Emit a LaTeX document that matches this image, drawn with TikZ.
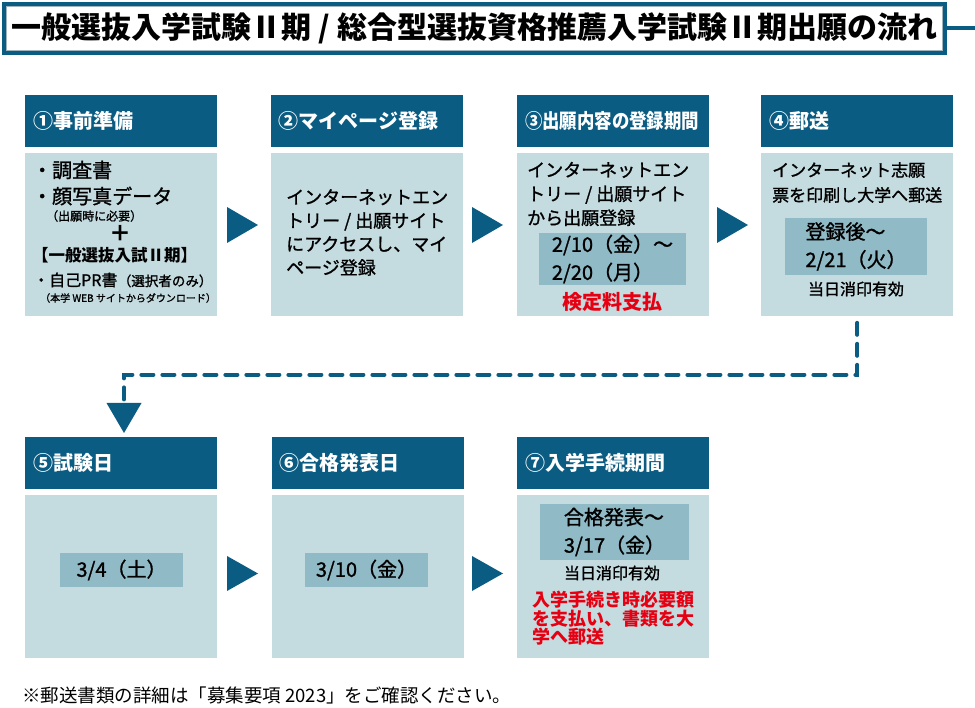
\documentclass[tikz,border=0pt]{standalone}
\usepackage{fontspec}
\setmainfont{Noto Sans CJK JP}
\newfontfamily\jpmid{Noto Sans CJK JP}[FakeBold=1.2]
\usetikzlibrary{positioning,arrows.meta}
\definecolor{flow}{RGB}{10,92,130}
\definecolor{pale}{RGB}{196,219,223}
\definecolor{datefill}{RGB}{143,186,198}
\definecolor{alert}{RGB}{230,0,18}
\definecolor{rim}{RGB}{160,180,190}
\newcommand{\fsz}[2]{\fontsize{#1}{#2}\selectfont}
\begin{document}
\begin{tikzpicture}[x=1pt,y=-1pt,
  titlebox/.style={draw=flow,line width=4pt,fill=white,minimum width=941pt,minimum height=49pt,inner sep=0pt,font=\bfseries\fsz{30}{32}},
  head/.style={fill=flow,text=white,minimum width=192pt,minimum height=52pt,text width=176pt,inner xsep=8pt,inner ysep=0pt,align=left,font=\bfseries\fsz{20}{24}},
  body/.style={fill=pale,minimum width=192pt,minimum height=163pt,inner sep=0pt},
  datebox/.style={fill=datefill,inner sep=0pt,align=left,font=\jpmid\fsz{20}{28}},
  txt/.style={inner sep=0pt,align=left,anchor=west},
  stamp/.style={inner sep=0pt,font=\jpmid\fsz{16}{20}},
  paytext/.style={inner sep=0pt,align=left,text=alert,font=\bfseries\fsz{18}{18.5}},
  dashline/.style={draw=flow,line width=4pt,dash pattern=on 12pt off 9pt,line cap=round,-{Triangle[length=30pt,width=35pt,line width=0pt]}}]
\useasboundingbox (0,0) rectangle (975,708);
\node[titlebox] (title) at (474.5,28.5) {一般選抜入学試験Ⅱ期 / 総合型選抜資格推薦入学試験Ⅱ期出願の流れ};
\draw[rim,line width=0.8pt] ([shift={(4.6pt,-4.6pt)}]title.north west) rectangle ([shift={(-4.6pt,4.6pt)}]title.south east);
\coordinate (edge) at (975,28.5);
\draw[flow,line width=4pt] (title.east) -- (edge);
\node[head,anchor=north west] (h1) at (25,95) {①事前準備};
\node[head,right=53pt of h1] (h2) {②マイページ登録};
\node[head,right=54pt of h2] (h3) {\scalebox{0.87}[1]{③出願内容の登録期間}};
\node[head,right=52pt of h3] (h4) {④郵送};
\node[body,below=5pt of h1] (b1) {};
\node[body,below=5pt of h2] (b2) {};
\node[body,below=5pt of h3] (b3) {};
\node[body,below=5pt of h4] (b4) {};
\node[head,anchor=north west] (h5) at (25,437) {⑤試験日};
\node[head,right=54pt of h5] (h6) {⑥合格発表日};
\node[head,right=53pt of h6] (h7) {⑦入学手続期間};
\node[body,below=5pt of h5] (b5) {};
\node[body,below=5pt of h6] (b6) {};
\node[body,below=5pt of h7] (b7) {};
\node[txt,font=\jpmid\fsz{20}{24}] (b1a) at (32,170) {・調査書};
\node[txt,font=\jpmid\fsz{20}{24}] (b1b) at (32,196) {・顔写真データ};
\node[txt,font=\jpmid\fsz{12}{14}] (b1c) at (46,216) {（出願時に必要）};
\node[inner sep=0pt,font=\bfseries\fsz{22}{24}] (b1d) at (120,233) {＋};
\node[txt,font=\bfseries\fsz{16.5}{20}] (b1e) at (32,255) {【一般選抜入試Ⅱ期】};
\node[txt,font=\jpmid\fsz{16}{20}] (b1f) at (33,280) {・自己PR書};
\node[inner sep=0pt,anchor=base west,font=\jpmid\fsz{13.5}{16}] (b1h) at (b1f.base east) {（選択者のみ）};
\node[txt,font=\jpmid\fsz{10}{12}] (b1g) at (40,298) {（本学 WEB サイトからダウンロード）};
\node[txt,font=\jpmid\fsz{18}{23.5}] (b2t) at (286,232.5) {インターネットエン\\トリー / 出願サイト\\にアクセスし、マイ\\ページ登録};
\node[txt,font=\jpmid\fsz{18}{24}] (b3t) at (527,194) {インターネットエン\\トリー / 出願サイト\\から出願登録};
\node[datebox,minimum width=147pt,minimum height=52pt] (d3) at (612.5,259) {2/10（金）～\\2/20（月）};
\node[inner sep=0pt,text=alert,font=\bfseries\fsz{20}{24}] (p3) at (612,302) {検定料支払};
\node[txt,font=\jpmid\fsz{17}{25}] (b4t) at (772,182.5) {インターネット志願\\票を印刷し大学へ郵送};
\node[datebox,minimum width=142pt,minimum height=57pt] (d4) at (856,246.5) {登録後～\\2/21（火）};
\node[stamp] (s4) at (856,289) {当日消印有効};
\node[datebox,minimum width=123pt,minimum height=34pt] (d5) at (121.5,570) {3/4（土）};
\node[datebox,minimum width=123pt,minimum height=34pt] (d6) at (366.5,570) {3/10（金）};
\node[datebox,minimum width=149pt,minimum height=56pt] (d7) at (614.5,532) {合格発表～\\3/17（金）};
\node[stamp] (s7) at (612,573) {当日消印有効};
\node[paytext,anchor=west] (p7) at (532,618.5) {入学手続き時必要額\\を支払い、書類を大\\学へ郵送};
\node[txt,font=\fsz{18.5}{20}] (note) at (22,695) {※郵送書類の詳細は「募集要項 2023」をご確認ください。};
\fill[flow] (227,207) -- (258,225) -- (227,243) -- cycle;
\fill[flow] (472,207) -- (503,225) -- (472,243) -- cycle;
\fill[flow] (717,207) -- (748,225) -- (717,243) -- cycle;
\fill[flow] (227,556) -- (258,573.5) -- (227,591) -- cycle;
\fill[flow] (472,556) -- (503,573.5) -- (472,591) -- cycle;
\coordinate (drop) at (124,433);
\draw[dashline] ([yshift=-7pt]b4.south) -- ++(0,52) -| (drop);
\end{tikzpicture}
\end{document}
